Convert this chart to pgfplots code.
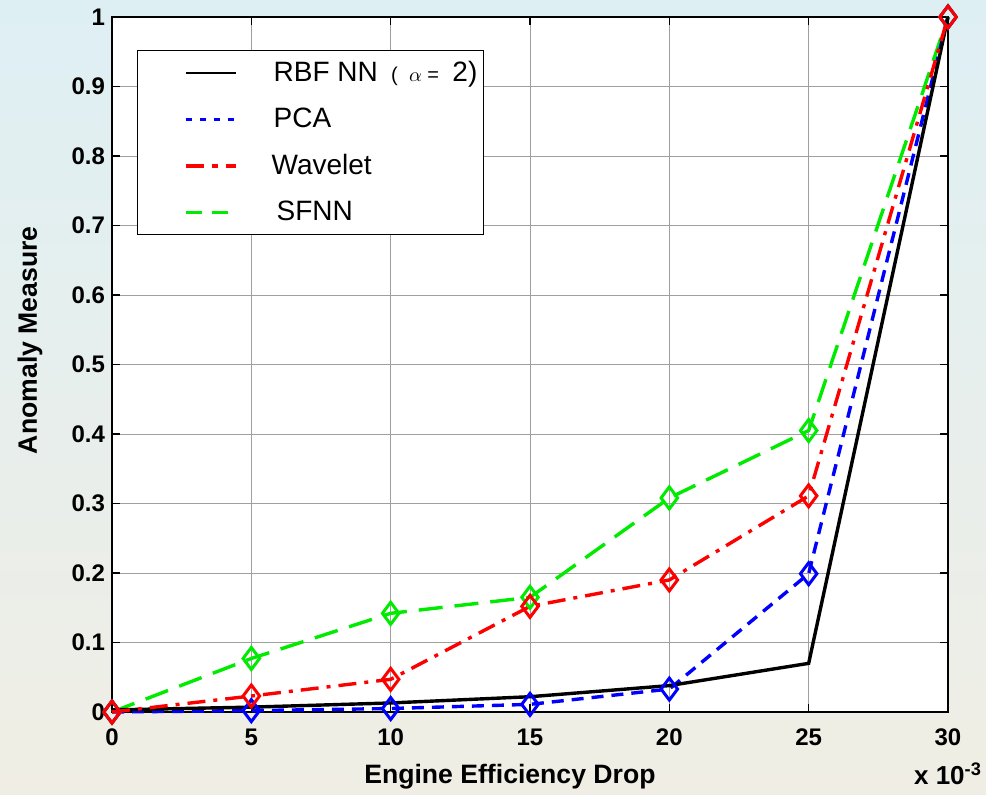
\documentclass[border=0pt]{standalone}
\usepackage{pgfplots}
\pgfplotsset{compat=1.18}
\usepackage{fontspec}
\setmainfont{Liberation Sans}
\usetikzlibrary{backgrounds}
\definecolor{bgtop}{RGB}{222,239,244}
\definecolor{bgbot}{RGB}{240,238,228}
\definecolor{mgreen}{RGB}{0,235,0}
\begin{document}
\begin{tikzpicture}[background rectangle/.style={top color=bgtop,bottom color=bgbot,draw=none}, show background rectangle, inner frame sep=0pt]
\begin{axis}[
  name=ax,
  at={(0,0)}, anchor=south west,
  scale only axis,
  width=418pt, height=347.5pt,
  xmin=0, xmax=30, ymin=0, ymax=1,
  xtick={0,5,10,15,20,25,30},
  ytick={0,0.1,0.2,0.3,0.4,0.5,0.6,0.7,0.8,0.9,1},
  grid=major,
  major grid style={gray!75, line width=0.45pt},
  axis background/.style={fill=white},
  axis line style={black, line width=0.9pt},
  major tick style={black, line width=0.6pt},
  major tick length=4pt,
  tick align=inside,
  /pgf/number format/assume math mode=true,
  tick label style={font=\fontsize{12}{14}\selectfont\bfseries},
  xticklabel style={yshift=-5pt},
  xlabel={\fontsize{13.3}{15}\selectfont\bfseries Engine Efficiency Drop},
  xlabel style={at={(rel axis cs:0.476,0)}, anchor=center, yshift=-32.5pt},
  clip=false,
  legend style={at={(rel axis cs:0.03,0.953)}, anchor=north west, draw=black, line width=0.6pt, fill=white,
     font=\fontsize{14}{16}\selectfont, row sep=7.8pt, inner xsep=0pt, inner ysep=3.5pt},
  legend cell align=left,
  legend image code/.code={\path[draw=none,fill=none] (0pt,-2pt) rectangle (66pt,2pt); \draw[#1] (24pt,0pt) -- (49pt,0pt);},
]
% legend
\addlegendimage{black, line width=1.2pt}
\addlegendentry{\makebox[103pt][l]{RBF NN {\fontsize{10}{11}\selectfont\ (\ \ $\alpha$\ = } 2)}}
\addlegendimage{blue, line width=1.6pt, dash pattern=on 3pt off 4pt}
\addlegendentry{PCA}
\addlegendimage{red, line width=1.6pt, dash pattern=on 9pt off 4pt on 3pt off 4pt}
\addlegendentry{\hspace{-1pt}Wavelet}
\addlegendimage{mgreen, line width=1.6pt, dash pattern=on 8pt off 5pt}
\addlegendentry{\hspace{1.5pt}SFNN}
% SFNN
\addplot[forget plot, mgreen, line width=1.7pt, dash pattern=on 12pt off 6pt, mark=diamond, mark size=5.5pt, mark options={solid, line width=1.5pt}]
 coordinates {(0,0) (5,0.077) (10,0.142) (15,0.165) (20,0.308) (25,0.405) (30,1)};
% PCA
\addplot[forget plot, blue, line width=1.7pt, dash pattern=on 6pt off 4pt, mark=diamond, mark size=5.5pt, mark options={solid, line width=1.5pt}]
 coordinates {(0,0) (5,0.002) (10,0.005) (15,0.011) (20,0.033) (25,0.199) (30,1)};
% RBF
\addplot[forget plot, black, line width=1.7pt]
 coordinates {(0,0.003) (5,0.007) (10,0.013) (15,0.022) (20,0.038) (25,0.07) (30,1)};
% Wavelet
\addplot[forget plot, red, line width=1.7pt, dash pattern=on 9pt off 4pt on 2pt off 4pt, mark=diamond, mark size=5.5pt, mark options={solid, line width=1.5pt}]
 coordinates {(0,0) (5,0.023) (10,0.047) (15,0.152) (20,0.19) (25,0.311) (30,1)};
\node[font=\fontsize{13}{15}\selectfont\bfseries] at ([yshift=-31pt]rel axis cs:1,0) {x 10\textsuperscript{-3}};
\node[rotate=90, font=\fontsize{13.3}{15}\selectfont\bfseries] at ([xshift=-41pt]rel axis cs:0,0.535) {Anomaly Measure};
\end{axis}
\pgfresetboundingbox
\path[use as bounding box] (-56pt,-41pt) rectangle (437pt,356pt);
\end{tikzpicture}
\end{document}
